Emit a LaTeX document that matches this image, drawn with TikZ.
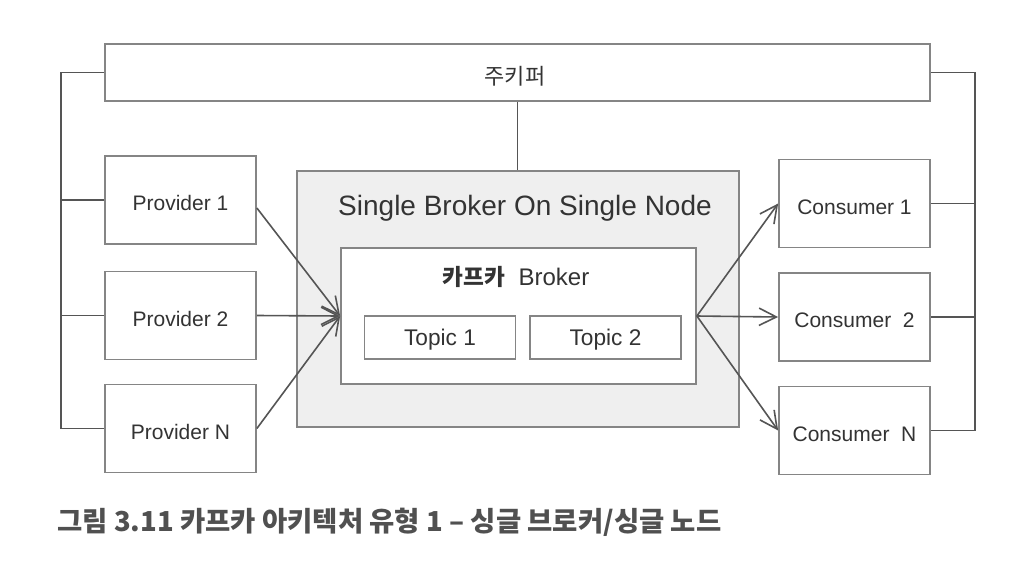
\documentclass[tikz,border=0pt]{standalone}
\usepackage{fontspec}
\setmainfont{Liberation Sans}
\newfontfamily\cjk{Noto Sans CJK KR}
\usetikzlibrary{arrows.meta}
\definecolor{boxline}{HTML}{858585}
\definecolor{conn}{HTML}{555555}
\definecolor{txt}{HTML}{333333}
\definecolor{captxt}{HTML}{505050}
\definecolor{grayfill}{HTML}{EFEFEF}
\tikzset{
  box/.style={draw=boxline, line width=1.3pt, fill=white, inner sep=0pt, text=txt},
  pbox/.style={box, minimum width=151*0.75pt, minimum height=88*0.75pt, text height=16pt, text depth=0.2pt, font=\fontsize{15.75}{18}\selectfont},
  tbox/.style={box, minimum width=151*0.75pt, minimum height=43*0.75pt, text height=13.5pt, text depth=1.3pt, font=\fontsize{17}{20}\selectfont},
  lbl/.style={text=txt, inner sep=0pt},
  bus/.style={draw=conn, line width=1.1pt},
  flow/.style={draw=conn, line width=1.2pt, -{Straight Barb[length=13pt, width=13pt, line width=1.2pt]}},
}
\begin{document}
\begin{tikzpicture}[x=0.75pt, y=-0.75pt]
\useasboundingbox (0,0) rectangle (1032,572);
\fill[white] (0,0) rectangle (1032,572);
% Zookeeper
\node[box, minimum width=825*0.75pt, minimum height=57*0.75pt] (zk) at (517.5,72.5) {};
\node[lbl, font=\cjk\fontsize{16.5}{20}\selectfont] (zklabel) at (515,76) {주키퍼};
% broker containers
\node[box, fill=grayfill, minimum width=442*0.75pt, minimum height=256*0.75pt] (outer) at (518,299) {};
\node[lbl, font=\fontsize{21}{24}\selectfont] (title) at (525,208) {Single Broker On Single Node};
\node[box, minimum width=355*0.75pt, minimum height=136*0.75pt] (inner) at (518.5,316) {};
\node[lbl, font=\fontsize{18}{20}\selectfont] (blabel) at (516,277) {{\cjk\bfseries\fontsize{17}{20}\selectfont 카프카}\ \ Broker};
\node[tbox] (t1) at (440,337.5) {Topic 1};
\node[tbox] (t2) at (605.5,337.5) {Topic 2};
% providers
\node[pbox] (p1) at (180.5,200) {Provider 1};
\node[pbox] (p2) at (180.5,315.5) {Provider 2};
\node[pbox] (pN) at (180.5,428.5) {Provider N};
% consumers
\node[pbox] (c1) at (854.5,203.5) {Consumer 1};
\node[pbox] (c2) at (854.5,317) {Consumer\ \ 2};
\node[pbox] (cN) at (854.5,430.5) {Consumer\ \ N};
% buses
\coordinate (lb) at (61,72.5);
\coordinate (rb) at (975,72.5);
\draw[bus] (zk.west) -- (lb) -- (lb |- pN.west) -- (pN.west);
\draw[bus] (p1.west) -- (p1.west -| lb);
\draw[bus] (p2.west) -- (p2.west -| lb);
\draw[bus] (zk.east) -- (rb) -- (rb |- cN.east) -- (cN.east);
\draw[bus] (c1.east) -- (c1.east -| rb);
\draw[bus] (c2.east) -- (c2.east -| rb);
\draw[bus] (zk.south) -- (zk.south |- outer.north);
% flows
\draw[flow] ([yshift=-6pt]p1.east) -- (inner.west);
\draw[flow] (p2.east) -- (inner.west);
\draw[flow] (pN.east) -- (inner.west);
\draw[flow] (inner.east) -- (c1.west);
\draw[flow] (inner.east) -- (c2.west);
\draw[flow] (inner.east) -- (cN.west);
% caption
\node[anchor=west, inner sep=0pt, text=captxt, font=\cjk\bfseries\fontsize{20.6}{24}\selectfont] (cap) at (57,522) {그림 3.11 카프카 아키텍처 유형 1 – 싱글 브로커/싱글 노드};
\end{tikzpicture}
\end{document}
